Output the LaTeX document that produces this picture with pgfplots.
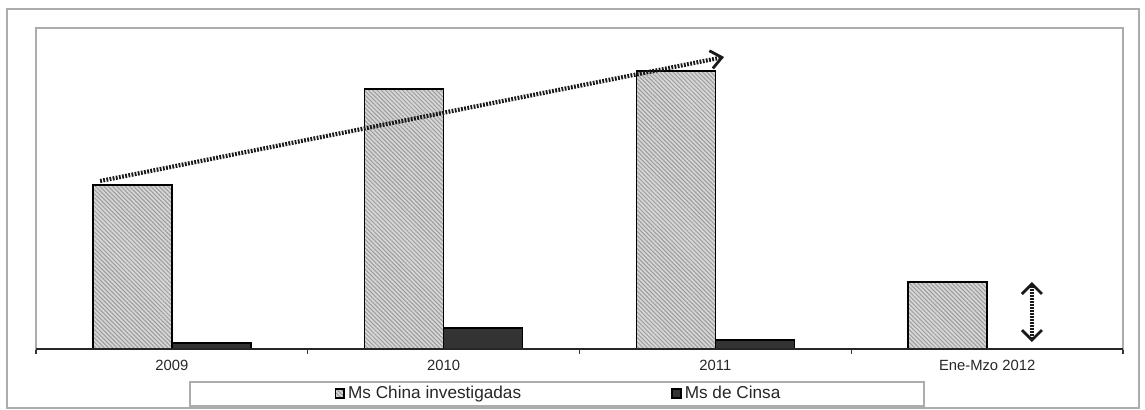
\documentclass[border=0pt]{standalone}
\usepackage{pgfplots}
\pgfplotsset{compat=1.18}
\usetikzlibrary{patterns.meta, arrows.meta}
\usepackage{fontspec}
\setmainfont{Liberation Sans}

\begin{document}
\begin{tikzpicture}[x=0.5pt,y=0.5pt]
% whole chart area and its frame
\useasboundingbox (0,0) rectangle (1145,409);
\draw[gray!65, line width=1pt] (7,1.5) rectangle (1139,400);
\begin{axis}[
  at={(18pt,30pt)}, anchor=south west,
  scale only axis, width=543.5pt, height=160.5pt,
  ybar=0pt, bar width=39.5pt,
  xmin=-0.5, xmax=3.5, ymin=0, ymax=321,
  xtick={0,1,2,3}, xticklabels={2009,2010,2011,Ene-Mzo 2012},
  minor xtick={-0.5,0.5,1.5,2.5,3.5},
  ytick=\empty,
  tick pos=bottom, tick align=outside,
  major tick length=0pt, minor tick length=2.5pt,
  minor tick style={black!80, line width=0.6pt},
  axis line style={gray!65, line width=1pt},
  xticklabel style={font=\fontsize{7.4}{8}\selectfont, text=black!85, yshift=-2pt},
  legend columns=2,
  legend style={draw=none, fill=none, at={(0.4811,-0.1386)}, anchor=center,
    font=\fontsize{8.6}{9}\selectfont, text=black!85, inner sep=0pt,
    nodes={inner sep=1.5pt},
    /tikz/every even column/.append style={column sep=73.5pt}},
  legend image code/.code={\draw[#1, line width=0.9pt] (0.3pt,-2.2pt) rectangle (4.7pt,2.2pt);},
  clip=false,
]
\addplot[draw=black, line width=0.7pt, fill=gray!32,
  postaction={pattern={Lines[angle=-45,distance=1.5pt,line width=0.5pt]}, pattern color=gray!78}]
  coordinates {(0,164) (1,260) (2,278) (3,67)};
\addplot[draw=black, line width=0.7pt, fill=black!80]
  coordinates {(0,6) (1,21) (2,9)};
\legend{Ms China investigadas, Ms de Cinsa}
% dark category axis line
\draw[black!85, line width=0.9pt] (rel axis cs:0,0) -- (rel axis cs:1,0);
% trend arrow over the yearly totals
\draw[black!90, line width=2.1pt, dash pattern=on 0.9pt off 0.7pt,
  -{Straight Barb[length=5.5pt, width=9pt, line width=1.4pt]}]
  (axis cs:-0.264,168) -- (axis cs:2.032,292);
% open range marker for the partial year
\draw[black!90, line width=1.6pt, dash pattern=on 0.8pt off 0.7pt,
  {Straight Barb[length=5pt, width=10pt, line width=1.4pt]}-{Straight Barb[length=5pt, width=10pt, line width=1.4pt]}]
  (axis cs:3.165,7) -- (axis cs:3.165,67);
\end{axis}
% legend frame
\draw[gray!65, line width=1pt] (190,3.5) rectangle (924,27.5);
\end{tikzpicture}
\end{document}
